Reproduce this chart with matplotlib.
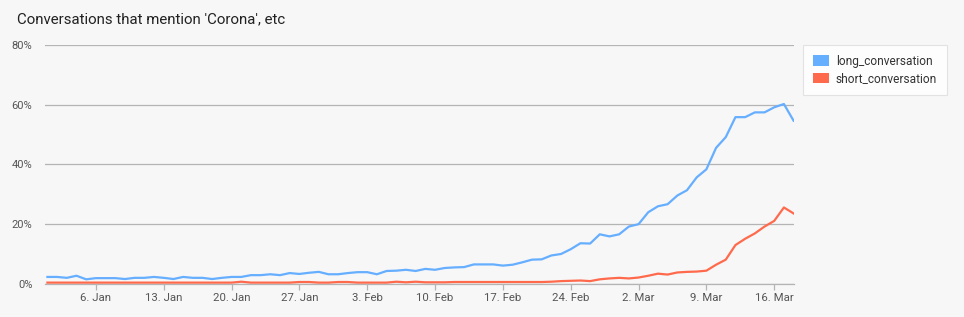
import matplotlib
matplotlib.use("Agg")
import matplotlib.pyplot as plt
import matplotlib.dates as mdates
from matplotlib.patches import Patch
from matplotlib.ticker import FuncFormatter
import pandas as pd

title = "Conversations that mention 'Corona', etc"
series_names = ["long_conversation", "short_conversation"]
start_date = "2020-01-01"
end_date = "2020-03-18"

long_conversation = [
    2.2, 2.2, 1.9, 2.6, 1.4, 1.8, 1.8, 1.8, 1.5, 1.9,
    1.9, 2.2, 1.9, 1.5, 2.2, 1.9, 1.9, 1.5, 1.9, 2.2,
    2.2, 2.8, 2.8, 3.1, 2.8, 3.5, 3.2, 3.6, 3.9, 3.1,
    3.1, 3.5, 3.8, 3.8, 3.1, 4.2, 4.3, 4.6, 4.2, 4.9,
    4.6, 5.2, 5.4, 5.5, 6.4, 6.4, 6.4, 6.0, 6.3, 7.1,
    8.0, 8.1, 9.4, 9.9, 11.5, 13.5, 13.4, 16.5, 15.8, 16.5,
    19.1, 19.9, 23.9, 25.9, 26.6, 29.5, 31.3, 35.6, 38.3, 45.5,
    49.1, 55.8, 55.8, 57.4, 57.4, 59.1, 60.2, 54.6,
]
short_conversation = [
    0.3, 0.3, 0.3, 0.3, 0.3, 0.3, 0.3, 0.3, 0.3, 0.3,
    0.3, 0.3, 0.3, 0.3, 0.3, 0.3, 0.3, 0.3, 0.3, 0.3,
    0.6, 0.3, 0.3, 0.3, 0.3, 0.3, 0.5, 0.5, 0.3, 0.3,
    0.5, 0.5, 0.3, 0.3, 0.3, 0.3, 0.6, 0.4, 0.6, 0.4,
    0.4, 0.4, 0.5, 0.5, 0.5, 0.5, 0.5, 0.5, 0.5, 0.5,
    0.5, 0.5, 0.6, 0.8, 0.9, 1.0, 0.8, 1.4, 1.7, 1.9,
    1.7, 2.0, 2.6, 3.3, 3.0, 3.7, 3.9, 4.0, 4.3, 6.3,
    8.0, 12.9, 15.0, 16.8, 19.1, 21.0, 25.5, 23.5,
]

y_ticks = [0, 20, 40, 60, 80]

dates = pd.date_range(start_date, end_date, freq="D")

bg = "#f7f7f7"
blue = "#66aeff"
red = "#ff6a4d"
grid_c = "#b4b4b4"
txt_c = "#555555"

plt.rcParams["font.family"] = ["Roboto", "DejaVu Sans"]

W, H = 964, 317
fig = plt.figure(figsize=(W / 100, H / 100), dpi=100, facecolor=bg)
ax = fig.add_axes([45 / W, 1 - 283.5 / H, (794 - 45) / W, (283.5 - 45) / H])
ax.set_facecolor(bg)

ax.plot(dates, long_conversation, color=blue, lw=1.6, solid_joinstyle="round", zorder=3)
ax.plot(dates, short_conversation, color=red, lw=1.6, solid_joinstyle="round", zorder=3)

ax.set_ylim(0, 80)
ax.set_xlim(dates[0] - pd.Timedelta(hours=6), dates[-1] + pd.Timedelta(hours=1))
ax.set_yticks(y_ticks)
ax.yaxis.set_major_formatter(FuncFormatter(lambda v, p: f"{int(v)}%"))
ax.grid(axis="y", color=grid_c, lw=0.9)
ax.set_axisbelow(True)

ax.xaxis.set_major_locator(mdates.WeekdayLocator(byweekday=mdates.MO))
def fmt_date(v, p):
    d = mdates.num2date(v)
    return f"{d.day}. {d.strftime('%b')}"
ax.xaxis.set_major_formatter(FuncFormatter(fmt_date))

for s in ["top", "right", "left"]:
    ax.spines[s].set_visible(False)
ax.spines["bottom"].set_color(grid_c)
ax.spines["bottom"].set_linewidth(0.9)
ax.tick_params(axis="y", length=0, pad=9, labelsize=8, labelcolor=txt_c)
ax.tick_params(axis="x", length=4, width=0.9, color=grid_c, pad=3, labelsize=8.2, labelcolor=txt_c)

fig.text(17 / W, 1 - 19 / H, title, fontsize=10.8, color="#222222", va="center", ha="left")

handles = [Patch(facecolor=blue, edgecolor="none", label=series_names[0]),
           Patch(facecolor=red, edgecolor="none", label=series_names[1])]
leg = fig.legend(handles=handles, loc="upper left",
                 bbox_to_anchor=(803 / W, 1 - 45 / H), borderaxespad=0, frameon=True,
                 fontsize=8.6, handlelength=1.35, handleheight=0.95, handletextpad=0.6,
                 labelspacing=0.4, borderpad=0.8, fancybox=False, labelcolor="#333333")
leg.get_frame().set_facecolor("white")
leg.get_frame().set_edgecolor("#dddddd")
leg.get_frame().set_linewidth(0.8)

fig.savefig("out.png", dpi=100, facecolor=bg)
